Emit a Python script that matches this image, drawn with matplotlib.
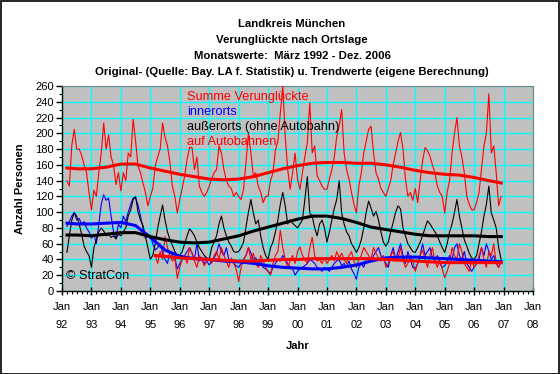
import numpy as np
import matplotlib
matplotlib.use("Agg")
import matplotlib.pyplot as plt
from matplotlib.ticker import MultipleLocator, FixedLocator

plt.rcParams['font.family'] = ['Liberation Sans', 'DejaVu Sans']

# ---------------------------------------------------------------------------
# Data: monthly values, first value = Maerz 1992
# ---------------------------------------------------------------------------
summe = [
    140, 133, 185, 205, 180, 180, 172, 160, 150, 125,                # 1992
    103, 128, 120, 150, 175, 213, 180, 198, 170, 160, 135, 150,      # 1993
    127, 150, 140, 175, 170, 218, 190, 158, 150, 137, 125, 108,      # 1994
    120, 130, 158, 170, 180, 213, 195, 184, 163, 133, 120, 99,       # 1995
    116, 130, 146, 167, 182, 182, 154, 170, 133, 125, 120, 125,      # 1996
    133, 142, 150, 154, 184, 175, 154, 140, 133, 130, 120, 125,      # 1997
    120, 116, 129, 163, 201, 175, 146, 150, 133, 125, 112, 120,      # 1998
    120, 140, 150, 179, 190, 226, 260, 196, 154, 129, 150, 175,      # 1999
    142, 129, 150, 170, 188, 239, 175, 184, 146, 140, 133, 129,      # 2000
    129, 142, 154, 170, 196, 210, 230, 175, 154, 142, 125, 110,      # 2001
    99, 133, 150, 175, 190, 205, 209, 175, 150, 142, 130, 125,       # 2002
    120, 130, 140, 160, 175, 190, 201, 180, 142, 120, 125, 115,      # 2003
    130, 112, 140, 165, 182, 178, 171, 160, 150, 133, 125, 120,      # 2004
    99, 125, 140, 175, 200, 220, 184, 170, 150, 120, 110, 103,       # 2005
    103, 112, 125, 154, 184, 200, 250, 175, 184, 150, 108, 120,      # 2006
]

innerorts = [
    82, 88, 95, 100, 90, 92, 85, 88, 80, 75,                         # 1992
    67, 72, 60, 85, 110, 122, 115, 118, 95, 75, 67, 85,              # 1993
    80, 95, 88, 100, 110, 118, 118, 109, 95, 80, 67, 72,             # 1994
    70, 60, 52, 55, 60, 48, 40, 35, 50, 45, 42, 28,                  # 1995
    35, 40, 45, 50, 55, 48, 40, 61, 38, 42, 35, 38,                  # 1996
    33, 38, 42, 48, 60, 50, 45, 55, 40, 38, 35, 32,                  # 1997
    30, 35, 40, 45, 55, 48, 40, 42, 35, 38, 30, 28,                  # 1998
    25, 22, 30, 35, 40, 38, 45, 40, 35, 30, 28, 20,                  # 1999
    25, 28, 30, 32, 35, 40, 38, 35, 30, 28, 25, 30,                  # 2000
    28, 25, 30, 35, 38, 40, 32, 35, 30, 38, 28, 22,                  # 2001
    15, 30, 35, 30, 40, 42, 38, 45, 50, 55, 45, 40,                  # 2002
    35, 30, 45, 55, 40, 50, 60, 45, 35, 50, 40, 30,                  # 2003
    28, 35, 45, 60, 45, 50, 55, 42, 38, 45, 35, 30,                  # 2004
    32, 38, 45, 40, 55, 60, 45, 40, 50, 35, 30, 25,                  # 2005
    30, 35, 40, 55, 45, 60, 50, 40, 45, 35, 30, 38,                  # 2006
]

ausserorts = [
    49, 70, 90, 99, 95, 85, 72, 57, 50, 45,                          # 1992
    30, 55, 65, 75, 80, 76, 70, 72, 68, 70, 66, 72,                  # 1993
    70, 75, 80, 95, 103, 116, 120, 100, 90, 83, 70, 55,              # 1994
    40, 45, 60, 80, 95, 109, 90, 75, 65, 58, 50, 45,                 # 1995
    45, 50, 60, 70, 79, 75, 70, 62, 55, 50, 45, 42,                  # 1996
    40, 55, 62, 70, 85, 95, 80, 70, 62, 57, 50, 49,                  # 1997
    50, 55, 62, 81, 100, 116, 99, 85, 90, 70, 55, 45,                # 1998
    40, 55, 62, 75, 90, 110, 125, 108, 85, 90, 86, 83,               # 1999
    80, 85, 90, 116, 145, 99, 95, 80, 70, 85, 90, 80,                # 2000
    62, 75, 90, 105, 116, 140, 99, 85, 75, 70, 60, 55,               # 2001
    49, 55, 65, 80, 100, 114, 105, 95, 101, 90, 75, 62,              # 2002
    57, 62, 75, 87, 100, 108, 104, 80, 70, 60, 55, 50,               # 2003
    49, 55, 62, 70, 80, 89, 85, 80, 75, 70, 62, 55,                  # 2004
    49, 60, 75, 85, 100, 116, 95, 80, 65, 57, 48, 42,                # 2005
    40, 45, 60, 75, 95, 110, 133, 99, 90, 80, 55, 40,                # 2006
]

# auf Autobahnen: first value = Maerz 1995
autobahn = [
    45, 35, 50, 40, 69, 55, 45, 38, 42, 16,                          # 1995
    30, 40, 45, 35, 55, 48, 38, 30, 45, 40, 32, 38,                  # 1996
    40, 35, 45, 50, 40, 55, 45, 38, 30, 42, 35, 28,                  # 1997
    12, 30, 40, 45, 55, 40, 48, 35, 30, 45, 38, 30,                  # 1998
    25, 20, 35, 45, 50, 77, 55, 40, 30, 38, 45, 35,                  # 1999
    50, 56, 45, 40, 35, 55, 68, 45, 38, 40, 35, 42,                  # 2000
    35, 40, 45, 38, 50, 42, 48, 40, 35, 45, 50, 38,                  # 2001
    30, 40, 45, 55, 50, 45, 40, 55, 48, 42, 38, 45,                  # 2002
    30, 35, 45, 50, 38, 42, 55, 40, 30, 35, 45, 38,                  # 2003
    25, 35, 45, 52, 40, 30, 45, 55, 38, 30, 40, 28,                  # 2004
    17, 25, 35, 55, 45, 40, 60, 50, 35, 30, 25, 40,                  # 2005
    30, 35, 45, 55, 40, 30, 50, 45, 60, 35, 30, 38,                  # 2006
]

# Trendwerte (eigene Berechnung), read at half-year points
trend_years = [1992.17, 1992.5, 1993.0, 1993.5, 1994.0, 1994.5, 1995.0, 1995.5,
               1996.0, 1996.5, 1997.0, 1997.5, 1998.0, 1998.5, 1999.0, 1999.5,
               2000.0, 2000.5, 2001.0, 2001.5, 2002.0, 2002.5, 2003.0, 2003.5,
               2004.0, 2004.5, 2005.0, 2005.5, 2006.0, 2006.5, 2006.92]
trend_summe = [156, 155, 155, 157, 161, 161, 156, 152, 148, 145, 142, 141, 142, 145,
               150, 155, 159, 162, 163, 163, 162, 162, 160, 157, 153, 150, 148, 147,
               144, 140, 137]
trend_inner = [86, 85, 85, 86, 87, 83, 68, 52, 44, 41, 40, 38, 37, 35, 32, 30,
               29, 28, 28, 30, 33, 38, 42, 43, 43, 42, 41, 40, 39, 38, 37]
trend_ausser = [71, 71, 70, 72, 74, 74, 69, 65, 62, 61, 62, 66, 70, 76, 81, 86,
                91, 95, 95, 92, 87, 81, 78, 75, 72, 70, 70, 70, 70, 69, 69]
trend_ab_years = [1995.17, 1995.5, 1996.0, 1996.5, 1997.0, 1997.5, 1998.0, 1998.5,
                  1999.0, 1999.5, 2000.0, 2000.5, 2001.0, 2001.5, 2002.0, 2002.5,
                  2003.0, 2003.5, 2004.0, 2004.5, 2005.0, 2005.5, 2006.0, 2006.5,
                  2006.92]
trend_autobahn = [45, 44, 42, 41, 40, 39, 38, 38, 39, 40, 40, 41, 41, 41, 41, 41,
                  40, 39, 38, 37, 36, 36, 36, 36, 36]

year_labels = ["92", "93", "94", "95", "96", "97", "98", "99", "00", "01",
               "02", "03", "04", "05", "06", "07", "08"]

# ---------------------------------------------------------------------------
# Plot
# ---------------------------------------------------------------------------
def month_axis(values, start_year, start_month):
    idx = np.arange(len(values))
    return start_year + (start_month - 1 + idx) / 12.0


fig = plt.figure(figsize=(5.6, 3.74), dpi=100)
fig.patch.set_facecolor('white')
fig.patches.append(plt.Rectangle((0.001, 0.001), 0.997, 0.996, transform=fig.transFigure,
                                 fill=False, edgecolor='black', linewidth=1.2))

ax = fig.add_axes([62 / 560, 1 - 291 / 374, 471 / 560, 205 / 374])
ax.set_facecolor('#C0C0C0')

x_all = month_axis(summe, 1992, 3)
x_ab = month_axis(autobahn, 1995, 3)

ax.plot(x_all, summe, color='#FF0000', lw=0.8, zorder=3)
ax.plot(x_all, innerorts, color='#0000FF', lw=0.8, zorder=3)
ax.plot(x_all, ausserorts, color='black', lw=0.8, zorder=3)
ax.plot(x_ab, autobahn, color='#FF0000', lw=0.8, zorder=3)

ax.plot(trend_years, trend_summe, color='#FF0000', lw=2.2, zorder=4)
ax.plot(trend_years, trend_inner, color='#0000FF', lw=2.2, zorder=4)
ax.plot(trend_years, trend_ausser, color='black', lw=2.2, zorder=4)
ax.plot(trend_ab_years, trend_autobahn, color='#FF0000', lw=2.2, zorder=4)

ax.set_xlim(1992, 2008)
ax.set_ylim(0, 260)

years = np.arange(1992, 2009)
ax.xaxis.set_major_locator(FixedLocator(years))
ax.set_xticklabels(["Jan\n" + s for s in year_labels], fontsize=8, linespacing=1.95)
ax.xaxis.set_minor_locator(MultipleLocator(1 / 6))
ax.yaxis.set_major_locator(MultipleLocator(20))
ax.yaxis.set_minor_locator(MultipleLocator(10))
ax.tick_params(axis='y', labelsize=8, length=4, width=1, direction='out', pad=2)
ax.tick_params(axis='x', length=6, width=1, direction='inout', pad=5)
ax.tick_params(which='minor', length=2, width=0.8)
ax.tick_params(axis='x', which='minor', direction='out')

ax.grid(True, which='major', color='#00FFFF', lw=1.0, zorder=1)
ax.set_axisbelow(True)

for side in ['left', 'bottom']:
    ax.spines[side].set_color('black')
    ax.spines[side].set_linewidth(1.0)
for side in ['top', 'right']:
    ax.spines[side].set_color('#808080')
    ax.spines[side].set_linewidth(0.8)

ax.set_ylabel("Anzahl Personen", fontsize=8, fontweight='bold', labelpad=7)
ax.set_xlabel("Jahr", fontsize=8, fontweight='bold', labelpad=8)

titles = ["Landkreis München",
          "Verunglückte nach Ortslage",
          "Monatswerte:  März 1992 - Dez. 2006",
          "Original- (Quelle: Bay. LA f. Statistik) u. Trendwerte (eigene Berechnung)"]
for i, t in enumerate(titles):
    fig.text(292 / 560, 1 - (24 + 16 * i) / 374, t, ha='center', va='center',
             fontsize=8.2, fontweight='bold')

legend_items = [("Summe Verunglückte", '#FF0000'),
                ("innerorts", '#0000FF'),
                ("außerorts (ohne Autobahn)", 'black'),
                ("auf Autobahnen", '#FF0000')]
for i, (txt, col) in enumerate(legend_items):
    fig.text(187 / 560, 1 - (97 + 15 * i) / 374, txt, color=col, ha='left',
             va='center', fontsize=9.2)

fig.text(66 / 560, 1 - 276 / 374, "© StratCon", ha='left', va='center', fontsize=9.2)

fig.savefig("out.png", dpi=100, facecolor='white')
